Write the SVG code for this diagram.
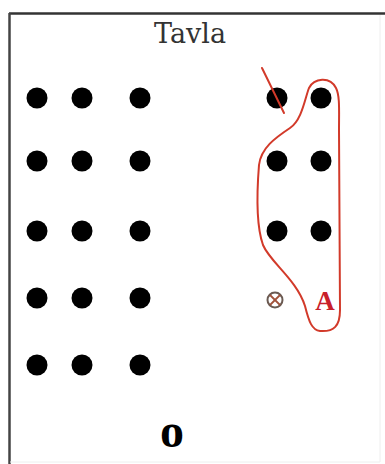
<svg xmlns="http://www.w3.org/2000/svg" width="385" height="464" viewBox="0 0 385 464">
<style>
.dot{fill:#000}
.red{fill:none;stroke:#d23a2a;stroke-width:2;stroke-linecap:round;stroke-linejoin:round}
</style>
<rect x="0" y="0" width="385" height="464" fill="#fff"/>
<g id="frame">
<line x1="9" y1="13.5" x2="385" y2="13.5" stroke="#333" stroke-width="2.5"/>
<line x1="9.5" y1="13" x2="9.5" y2="464" stroke="#444" stroke-width="2.5"/>
<line x1="380" y1="15" x2="380" y2="462" stroke="#eee" stroke-width="1"/>
<line x1="10" y1="462" x2="380" y2="462" stroke="#eee" stroke-width="1"/>
</g>
<g id="title"><text x="190" y="43" font-family="DejaVu Serif, serif" font-size="27" fill="#333" text-anchor="middle">Tavla</text></g>
<g id="left-dots">
<circle class="dot" cx="37" cy="98" r="10.5"/><circle class="dot" cx="82" cy="98" r="10.5"/><circle class="dot" cx="140" cy="98" r="10.5"/>
<circle class="dot" cx="37" cy="161" r="10.5"/><circle class="dot" cx="82" cy="161" r="10.5"/><circle class="dot" cx="140" cy="161" r="10.5"/>
<circle class="dot" cx="37" cy="231" r="10.5"/><circle class="dot" cx="82" cy="231" r="10.5"/><circle class="dot" cx="140" cy="231" r="10.5"/>
<circle class="dot" cx="37" cy="298" r="10.5"/><circle class="dot" cx="82" cy="298" r="10.5"/><circle class="dot" cx="140" cy="298" r="10.5"/>
<circle class="dot" cx="37" cy="365" r="10.5"/><circle class="dot" cx="82" cy="365" r="10.5"/><circle class="dot" cx="140" cy="365" r="10.5"/>
</g>
<g id="right-dots">
<circle class="dot" cx="277" cy="98" r="10.5"/><circle class="dot" cx="321" cy="98" r="10.5"/>
<circle class="dot" cx="277" cy="161" r="10.5"/><circle class="dot" cx="321" cy="161" r="10.5"/>
<circle class="dot" cx="277" cy="231" r="10.5"/><circle class="dot" cx="321" cy="231" r="10.5"/>
</g>
<g id="connectors">
<path class="red" d="M262 68 L284 113"/>
<path class="red" d="M309 88 C314 78 330 76 336 88 C340 96 339 110 339 130 L340 310 C340 326 334 332 320 331 C312 330 309 322 305 306 C297 280 270 262 263 245 C256 225 257 190 259 165 C261 148 275 138 290 128 C302 120 305 98 309 88 Z"/>
</g>
<g id="otimes">
<circle cx="275" cy="300" r="7.5" fill="none" stroke="#6a5a52" stroke-width="2"/>
<line x1="270" y1="295" x2="280" y2="305" stroke="#a0523a" stroke-width="1.8"/>
<line x1="280" y1="295" x2="270" y2="305" stroke="#a0523a" stroke-width="1.8"/>
</g>
<g id="label-A"><text x="325" y="310" font-family="Liberation Serif, serif" font-weight="bold" font-size="27" fill="#c8202a" text-anchor="middle">A</text></g>
<g id="label-o"><text x="172" y="447" font-family="Liberation Serif, serif" font-weight="bold" font-size="48" fill="#000" text-anchor="middle">o</text></g>
</svg>
